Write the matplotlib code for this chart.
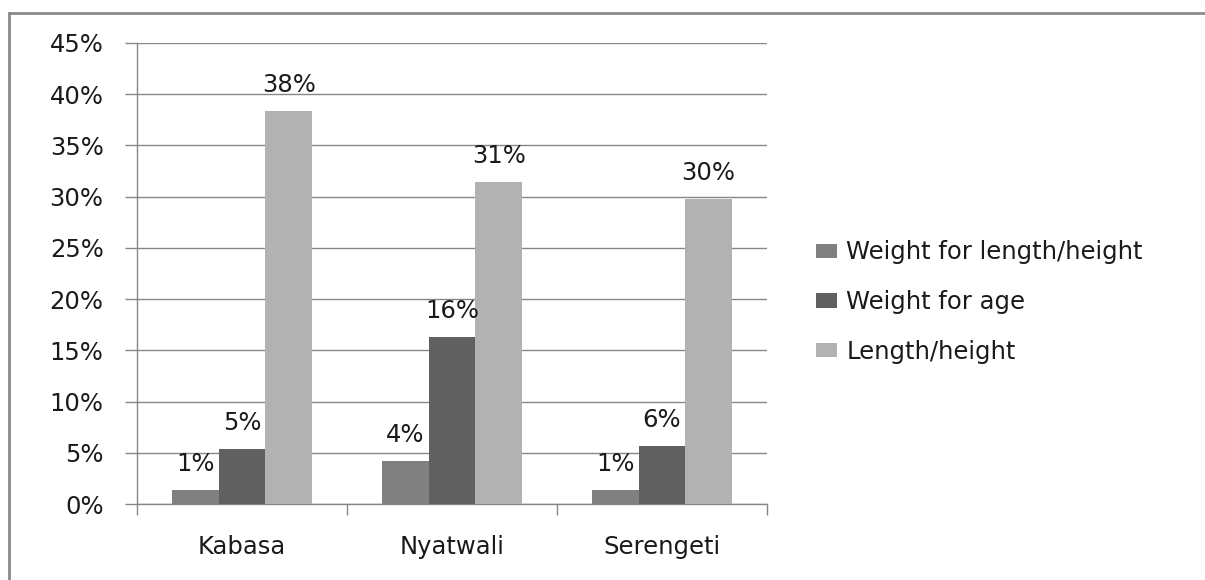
import matplotlib
matplotlib.use("Agg")
import matplotlib.pyplot as plt
from matplotlib.lines import Line2D
from matplotlib.ticker import FuncFormatter
import numpy as np

# Survey results by site (percent of children)
sites = ["Kabasa", "Nyatwali", "Serengeti"]
series_names = ["Weight for length/height", "Weight for age", "Length/height"]
weight_for_length = [1.4, 4.2, 1.4]
weight_for_age = [5.4, 16.3, 5.7]
length_height = [38.4, 31.4, 29.8]
series_values = [weight_for_length, weight_for_age, length_height]
series_colors = ["#808080", "#606060", "#b2b2b2"]
y_ticks = [0, 5, 10, 15, 20, 25, 30, 35, 40, 45]

plt.rcParams["font.family"] = ["DejaVu Sans"]
text_color = "#1a1a1a"
grid_color = "#878787"

fig = plt.figure(figsize=(12.05, 5.80), dpi=100)
ax = fig.add_axes([137 / 1205, 1 - 504 / 580, (767 - 137) / 1205, (504 - 43) / 580])

n_series = len(series_values)
bar_w = 1 / (n_series + 1.5)  # Excel-style 150% gap width
x = np.arange(len(sites))
for i, (vals, name, col) in enumerate(zip(series_values, series_names, series_colors)):
    offs = (i - (n_series - 1) / 2) * bar_w
    bars = ax.bar(x + offs, vals, width=bar_w, color=col, label=name, zorder=3)
    for b, v in zip(bars, vals):
        ax.annotate(f"{v:.0f}%", (b.get_x() + b.get_width() / 2, v),
                    xytext=(0, 10), textcoords="offset points",
                    ha="center", va="bottom", fontsize=17.5, color=text_color, zorder=4)

ax.set_xlim(-0.5, len(sites) - 0.5)
ax.set_ylim(0, 45)
ax.set_yticks(y_ticks)
ax.yaxis.set_major_formatter(FuncFormatter(lambda v, p: f"{v:.0f}%"))
ax.yaxis.grid(True, color=grid_color, linewidth=1.0, zorder=0)
ax.set_axisbelow(True)

# category labels in the middle, ticks on the category boundaries
ax.set_xticks(x)
ax.set_xticklabels(sites)
ax.set_xticks(np.arange(len(sites) + 1) - 0.5, minor=True)
ax.tick_params(axis="x", which="major", length=0, pad=22, labelsize=17.5, labelcolor=text_color)
ax.tick_params(axis="x", which="minor", length=8, width=1.0, color=grid_color, direction="out")
ax.tick_params(axis="y", length=9, width=1.0, color=grid_color, pad=15, labelsize=17.5,
               labelcolor=text_color, direction="out")

for s in ["top", "right"]:
    ax.spines[s].set_visible(False)
for s in ["left", "bottom"]:
    ax.spines[s].set_color(grid_color)
    ax.spines[s].set_linewidth(1.0)

fig.legend(loc="center left", bbox_to_anchor=(816 / 1205, 1 - 302 / 580),
           frameon=False, fontsize=17.5, handlelength=0.85, handleheight=0.55,
           handletextpad=0.4, labelspacing=1.05, borderpad=0, borderaxespad=0,
           labelcolor=text_color)

# chart frame (left and top edges)
frame_kw = dict(color="#8a8a8a", linewidth=2.0, transform=fig.transFigure, clip_on=False)
fig.add_artist(Line2D([9 / 1205, 9 / 1205], [0, 1 - 13 / 580], **frame_kw))
fig.add_artist(Line2D([9 / 1205, 1], [1 - 13 / 580, 1 - 13 / 580], **frame_kw))

fig.savefig("out.png", dpi=100)
